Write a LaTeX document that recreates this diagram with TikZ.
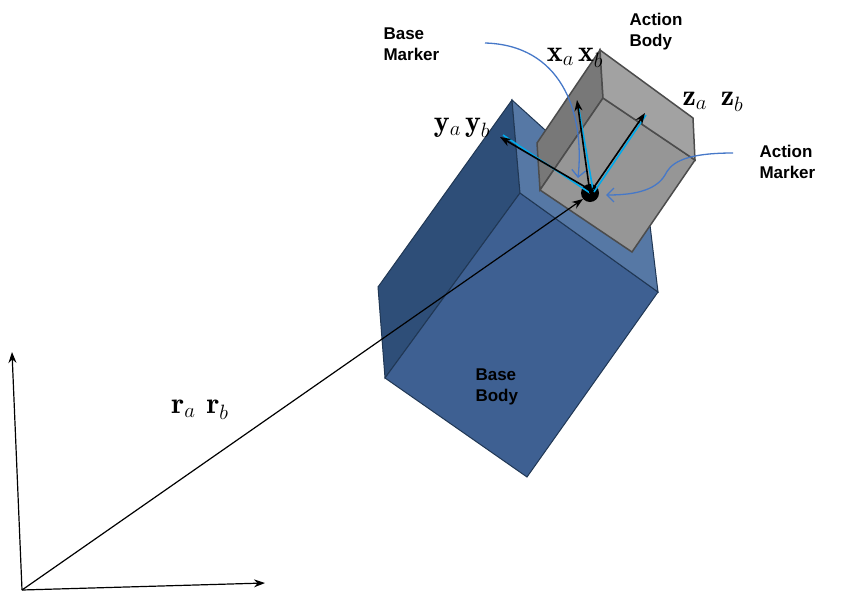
\documentclass[tikz,border=0pt]{standalone}
\usepackage{fontspec}
\setsansfont{Liberation Sans}
\usetikzlibrary{arrows.meta}
\begin{document}
\begin{tikzpicture}[x=1pt,y=-1pt,
  lbl/.style={font=\sffamily\bfseries\fontsize{17}{21}\selectfont,align=left,anchor=west},
  vec/.style={font=\fontsize{30}{32}\selectfont},
  arr/.style={-{Stealth[length=11pt,width=8pt]},line width=1.6pt},
  thinarr/.style={-{Stealth[length=11pt,width=8pt]},line width=1.2pt},
  cyanl/.style={color={rgb,255:red,0;green,170;blue,235},line width=1.6pt},
  curv/.style={color={rgb,255:red,70;green,120;blue,200},line width=1.3pt,-{Straight Barb[length=7pt]}}]
\useasboundingbox (0,0) rectangle (863,600);
% base body
\definecolor{bL}{RGB}{46,78,120}\definecolor{bF}{RGB}{62,96,146}\definecolor{bT}{RGB}{86,120,165}
\draw[bL!70!black,fill=bL,line width=1pt] (512,100)--(378,287)--(385,378)--(520,193)--cycle;
\draw[bL!70!black,fill=bF,line width=1pt] (520,193)--(385,378)--(527,477)--(658,292)--cycle;
\draw[bL!70!black,fill=bT,line width=1pt] (512,100)--(520,193)--(658,292)--(650,225)--cycle;
% gray box
\definecolor{gD}{RGB}{120,120,120}\definecolor{gF}{RGB}{150,150,150}\definecolor{gT}{RGB}{162,162,162}
\draw[gray!60!black,fill=gD,line width=1.5pt] (600,50)--(537,143)--(540,190)--(603,98)--cycle;
\draw[gray!60!black,fill=gF,line width=1.5pt] (603,98)--(540,190)--(632,252)--(695,160)--cycle;
\draw[gray!60!black,fill=gT,line width=1.5pt] (600,50)--(603,98)--(695,160)--(693,118)--cycle;
% dot
\fill (590,193) circle (9);
\coordinate (o) at (590,193);
\coordinate (org) at (22,590);
\coordinate (tx) at (577,100);\coordinate (tz) at (645,113);\coordinate (ty) at (500,137);
\draw[cyanl] (o)--(503,135);
\draw[cyanl] (593,190)--(578,104);
\draw[cyanl] (594,192)--(646,115);
\draw[arr] (o)--(tx);
\draw[arr] (o)--(tz);
\draw[arr] (587,188)--(ty);
% axes and position vector
\draw[thinarr] (org)--(12,352);
\draw[thinarr] (org)--(265,583);
\draw[thinarr] (org)--(583,199);
% curved marker arrows
\draw[curv] (485,43) .. controls (560,45) and (585,110) .. (578,178);
\draw[curv] (733,153) .. controls (680,153) and (670,165) .. (665,175) .. controls (655,192) and (630,195) .. (606,195);
% labels
\node[vec] at (200,410) {$\mathbf{r}_a\;\,\mathbf{r}_b$};
\node[vec] at (575,58) {$\mathbf{x}_a\,\mathbf{x}_b$};
\node[vec] at (462,128) {$\mathbf{y}_a\,\mathbf{y}_b$};
\node[vec] at (713,102) {$\mathbf{z}_a\;\;\mathbf{z}_b$};
\node[lbl] at (380,44) {Base\\Marker};
\node[lbl] at (626,32) {Action\\Body};
\node[lbl] at (756,162) {Action\\Marker};
\node[lbl] at (472,387) {Base\\Body};
\end{tikzpicture}
\end{document}
